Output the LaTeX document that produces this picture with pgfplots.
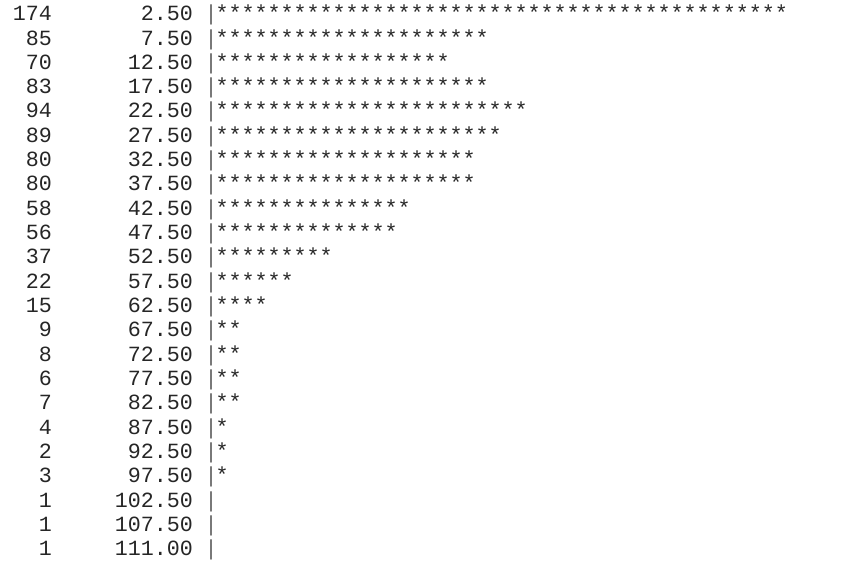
\documentclass[border=0pt]{standalone}
\usepackage{pgfplots}
\pgfplotsset{compat=1.18}
\usepackage{pgfplotstable}
\usepackage{fontspec}
\newfontfamily\mono{Liberation Mono}

% repeat an asterisk n times
\ExplSyntaxOn
\cs_new:Npn \stars #1 { \prg_replicate:nn {#1} {*} }
\ExplSyntaxOff

% row  count  bin midpoint  number of asterisks
\pgfplotstableread{
row count mid nstars
1 174 2.50 44
2 85 7.50 21
3 70 12.50 18
4 83 17.50 21
5 94 22.50 24
6 89 27.50 22
7 80 32.50 20
8 80 37.50 20
9 58 42.50 15
10 56 47.50 14
11 37 52.50 9
12 22 57.50 6
13 15 62.50 4
14 9 67.50 2
15 8 72.50 2
16 6 77.50 2
17 7 82.50 2
18 4 87.50 1
19 2 92.50 1
20 3 97.50 1
21 1 102.50 0
22 1 107.50 0
23 1 111.00 0
}\hist

\begin{document}
\begin{tikzpicture}
\begin{axis}[
scale only axis,
width=866bp, height=557bp,
xmin=0, xmax=866,
ymin=0.1488, ymax=23.054,
y dir=reverse,
axis line style={draw=none},
ticks=none,
clip=false,
point meta=explicit symbolic,
nodes near coords align={center},
]

% counts
\addplot[draw=none, mark=none, nodes near coords,
  every node near coord/.append style={anchor=base east, inner sep=0pt,
    font=\mono\fontsize{21.75}{24}\selectfont, text=black!85}]
  table[x expr=52, y=row, meta=count] {\hist};

% bin midpoints
\addplot[draw=none, mark=none, nodes near coords,
  every node near coord/.append style={anchor=base east, inner sep=0pt,
    font=\mono\fontsize{21.75}{24}\selectfont, text=black!85}]
  table[x expr=193, y=row, meta=mid] {\hist};

% separator
\addplot[draw=none, mark=none, nodes near coords={|},
  every node near coord/.append style={anchor=base, inner sep=0pt,
    font=\mono\fontsize{21.75}{24}\selectfont, text=black!60}]
  table[x expr=211, y=row, meta=count] {\hist};

% asterisks
\addplot[draw=none, mark=none, nodes near coords={\stars{\pgfplotspointmeta}},
  every node near coord/.append style={anchor=base west, inner sep=0pt,
    font=\mono\fontsize{21.75}{24}\selectfont, text=black!85}]
  table[x expr=215.5, y=row, meta=nstars] {\hist};

\end{axis}
\end{tikzpicture}
\end{document}
